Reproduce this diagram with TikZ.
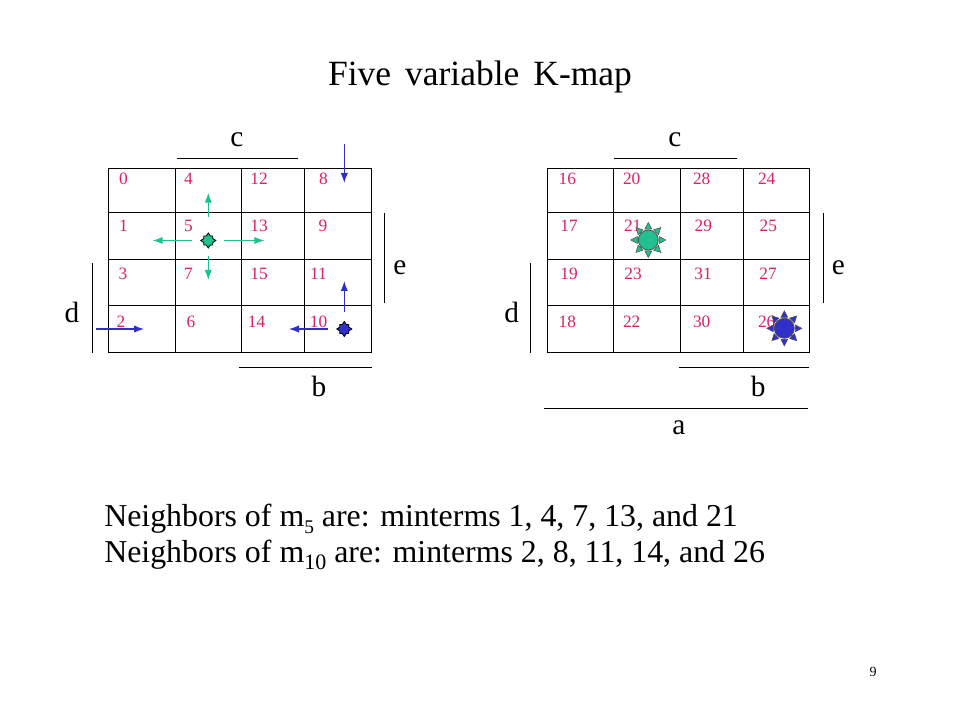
\documentclass[tikz,border=0pt]{standalone}
\usepackage{fontspec}
\setmainfont{Liberation Serif}
\usetikzlibrary{arrows.meta}
\definecolor{numred}{HTML}{E0205A}
\definecolor{mgreen}{HTML}{20C090}
\definecolor{mblue}{HTML}{3030C8}
\tikzset{
  cell/.style={draw=black,line width=0.75pt},
  num/.style={text=numred,font=\fontsize{13}{13}\selectfont,inner sep=0pt,anchor=base,yshift=-4.4pt},
  var/.style={font=\fontsize{22}{22}\selectfont,inner sep=0pt},
  bar/.style={draw=black,line width=0.75pt},
  garr/.style={draw=mgreen,line width=0.9pt,-{Latex[length=7.5pt,width=5.5pt]}},
  barr/.style={draw=mblue,line width=0.9pt,-{Latex[length=7.5pt,width=5.5pt]}},
  body/.style={font=\fontsize{23.9}{26}\selectfont,inner sep=0pt,anchor=base west},
}
\newcommand{\crossstar}[3]{%
  \filldraw[fill=#3,draw=black,line width=0.6pt,shift={(#1,#2)}]
  (0,-7.5)--(2,-4.5)--(4.5,-4.5)--(4.5,-2)--(7.5,0)--(4.5,2)--(4.5,4.5)--(2,4.5)--(0,7.5)--(-2,4.5)--(-4.5,4.5)--(-4.5,2)--(-7.5,0)--(-4.5,-2)--(-4.5,-4.5)--(-2,-4.5)--cycle;}
\newcommand{\sunsym}[3]{%
  \begin{scope}[shift={(#1,#2)}]
    \foreach \a in {0,45,...,315}{
      \filldraw[fill=#3,draw=black!70,line width=0.4pt,rotate=\a] (11,-3.4)--(17.5,0)--(11,3.4)--cycle;}
    \filldraw[fill=#3,draw=black!70,line width=0.6pt] (0,0) circle (10);
  \end{scope}}
\begin{document}
\begin{tikzpicture}[x=0.75pt,y=-0.75pt]
\useasboundingbox (0,0) rectangle (960,720);
% title
\node[font=\fontsize{26.6}{28}\selectfont,inner sep=0pt] (title) at (480,77) {Five\hspace{10.5pt}variable\hspace{10.5pt}K-map};
% ===== left map =====
\foreach \x in {108.3,175.7,241.7,304.3,371.7}{\draw[cell] (\x,168.3) -- (\x,352.7);}
\foreach \y in {168.3,212.3,260,305.7,352.7}{\draw[cell] (108.3,\y) -- (371.7,\y);}
\node[num] (n0) at (123.5,178.3) {0};
\node[num] (n4) at (188.5,178.3) {4};
\node[num] (n12) at (259,178.3) {12};
\node[num] (n8) at (323.5,178.3) {8};
\node[num] (n1) at (123.5,226) {1};
\node[num] (n5) at (188.5,226) {5};
\node[num] (n13) at (259,226) {13};
\node[num] (n9) at (323,226) {9};
\node[num] (n3) at (123,273.3) {3};
\node[num] (n7) at (188.5,273.3) {7};
\node[num] (n15) at (259,273.3) {15};
\node[num] (n11) at (318.5,273.3) {11};
\node[num] (n2) at (121,321.5) {2};
\node[num] (n6) at (191,321.5) {6};
\node[num] (n14) at (256.5,321.5) {14};
\node[num] (n10) at (318.5,321.5) {10};
% variable bars left
\draw[bar] (176.7,159) -- (298.3,159);
\node[var] (lc) at (237,140) {c};
\draw[bar] (384.3,213) -- (384.3,303);
\node[var] (le) at (400,268) {e};
\draw[bar] (92.7,263) -- (92.7,353);
\node[var] (ld) at (72,312) {d};
\draw[bar] (239,367) -- (372,367);
\node[var] (lb) at (319,386) {b};
% green star & arrows
\draw[garr] (208.3,216.7) -- (208.3,192.7);
\draw[garr] (191.7,240.5) -- (152.7,240.5);
\draw[garr] (224.3,240.5) -- (264.3,240.5);
\draw[garr] (208.3,256) -- (208.3,280);
\crossstar{208.3}{240.5}{mgreen}
% blue star & arrows
\draw[barr] (344.3,312.3) -- (344.3,281);
\draw[barr] (328.3,329) -- (289,329);
\draw[barr] (96,329) -- (144,329);
\draw[barr] (344.3,144) -- (344.3,183);
\crossstar{344.3}{329}{mblue}
% ===== right map =====
\foreach \x in {547.3,613.3,680.3,743.3,809.3}{\draw[cell] (\x,168.3) -- (\x,352.7);}
\foreach \y in {168.3,212.3,260,305.7,352.7}{\draw[cell] (547.3,\y) -- (809.3,\y);}
\node[num] (r16) at (567.3,178.3) {16};
\node[num] (r20) at (631.7,178.3) {20};
\node[num] (r28) at (701.7,178.3) {28};
\node[num] (r24) at (766.7,178.3) {24};
\node[num] (r17) at (569,226) {17};
\node[num] (r21) at (632.7,226) {21};
\node[num] (r29) at (703.3,226) {29};
\node[num] (r25) at (768.3,226) {25};
\node[num] (r19) at (569,273.3) {19};
\node[num] (r23) at (633,273.3) {23};
\node[num] (r31) at (703,273.3) {31};
\node[num] (r27) at (768,273.3) {27};
\node[num] (r18) at (567.3,321.5) {18};
\node[num] (r22) at (631.7,321.5) {22};
\node[num] (r30) at (701.7,321.5) {30};
\node[num] (r26) at (766.7,321.5) {26};
\draw[bar] (614.3,159) -- (737.3,159);
\node[var] (rc) at (675,140) {c};
\draw[bar] (823.3,213) -- (823.3,303);
\node[var] (re) at (838.3,268) {e};
\draw[bar] (530.7,263) -- (530.7,353);
\node[var] (rd) at (511.7,312) {d};
\draw[bar] (679,367) -- (809.3,367);
\node[var] (rb) at (758.3,386) {b};
\draw[bar] (544.3,408.3) -- (808.3,408.3);
\node[var] (ra) at (679,428) {a};
\sunsym{648.3}{240}{mgreen}
\sunsym{784.3}{328.3}{mblue}
% ===== bottom text =====
\node[body] (t1) at (104,526) {Neighbors of m\raisebox{-0.22em}{\fontsize{14.5}{14}\selectfont 5} are: minterms 1, 4, 7, 13, and 21};
\node[body] (t2) at (104,562) {Neighbors of m\raisebox{-0.22em}{\fontsize{16.5}{16}\selectfont 10} are: minterms 2, 8, 11, 14, and 26};
\node[font=\fontsize{10.5}{12}\selectfont,inner sep=0pt] (pg) at (873,672) {9};
\end{tikzpicture}
\end{document}
